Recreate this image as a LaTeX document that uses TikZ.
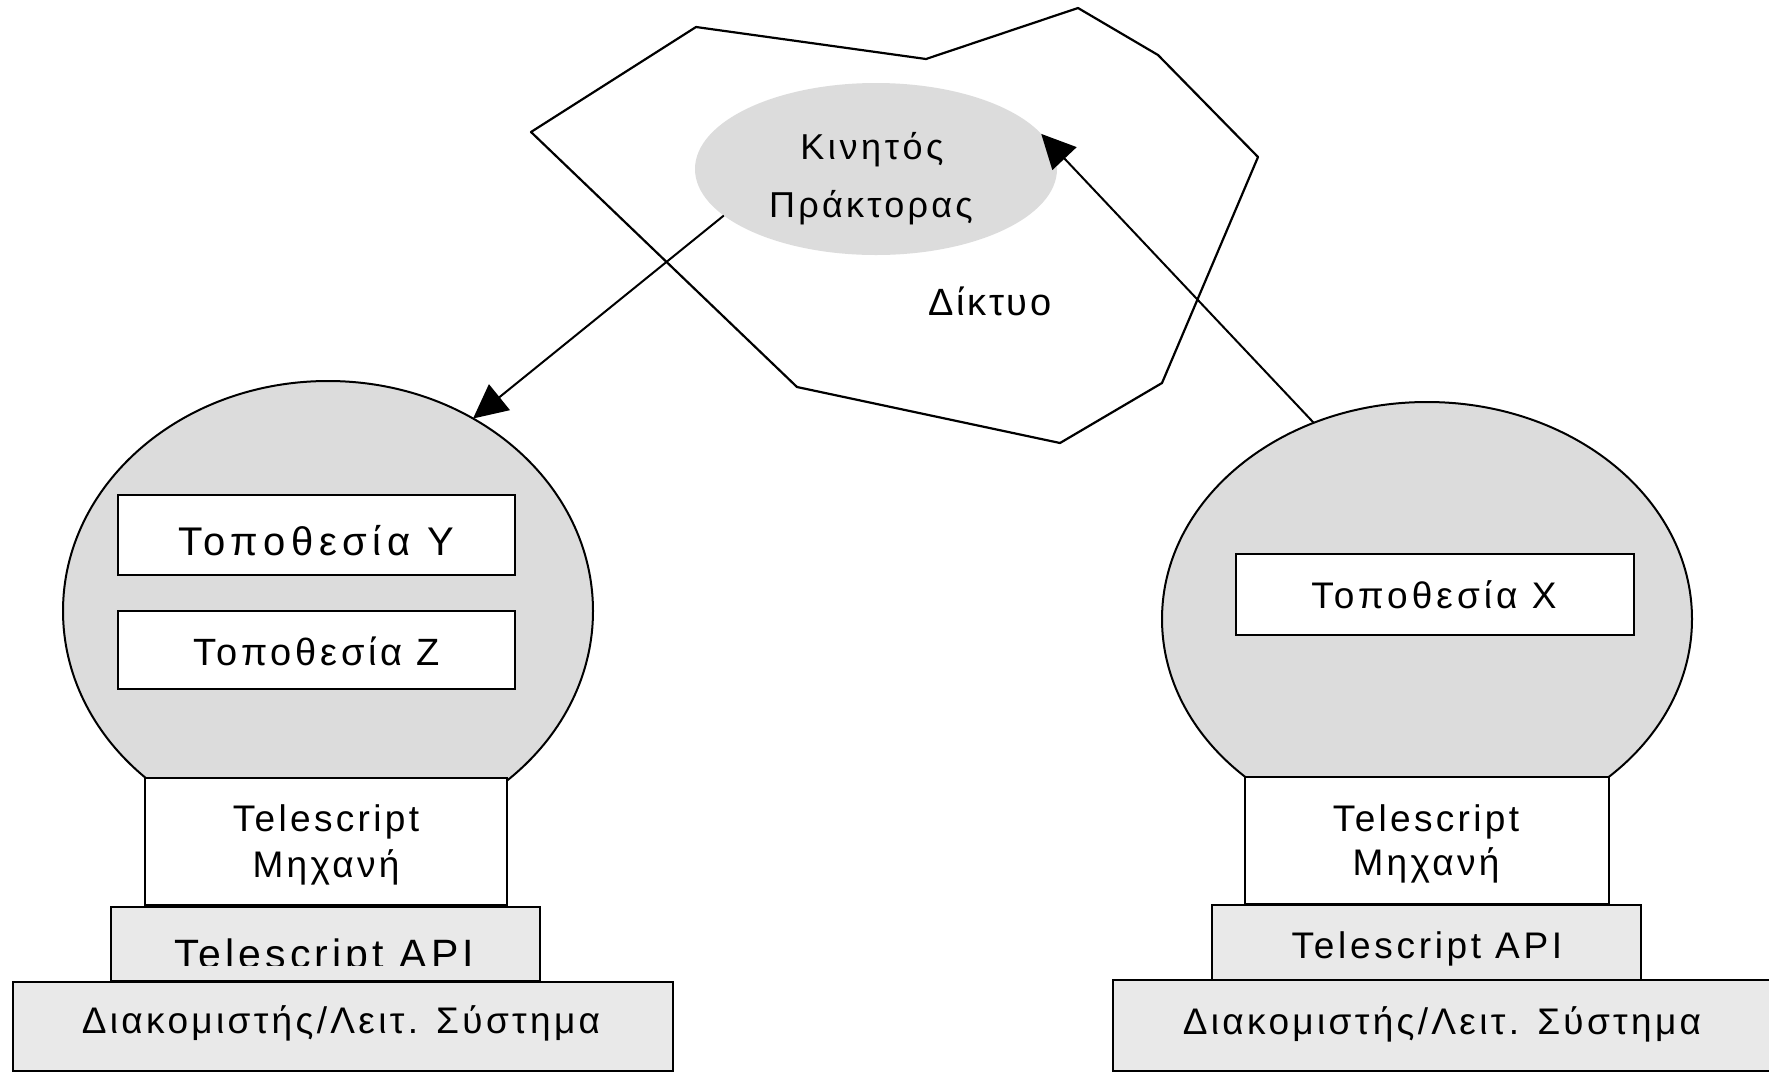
\documentclass[tikz,border=0pt]{standalone}
\usepackage{fontspec}
\setmainfont{Liberation Sans}
\usetikzlibrary{shapes.geometric,arrows.meta,fit}
\definecolor{sphgray}{RGB}{220,220,220}
\definecolor{boxgray}{RGB}{233,233,233}
\newcommand{\tf}[2]{\fontsize{#1pt}{#1pt}\selectfont\addfontfeatures{LetterSpace=#2}}
\begin{document}
\begin{tikzpicture}[x=1pt,y=-1pt,
  sphere/.style={ellipse, draw, fill=sphgray, line width=2pt, inner sep=0pt, outer sep=0pt},
  agentshape/.style={ellipse, fill=sphgray, inner sep=0pt, outer sep=0pt, minimum width=362pt, minimum height=172pt},
  whitebox/.style={rectangle, draw, fill=white, line width=2.6pt, inner sep=0pt, outer sep=0pt},
  graybox/.style={rectangle, draw, fill=boxgray, line width=2.6pt, inner sep=0pt, outer sep=0pt},
  txt/.style={anchor=base, inner sep=0pt, outer sep=0pt},
  cloudline/.style={line width=2.2pt, line join=round},
  conn/.style={line width=2pt, -{Triangle[length=34pt,width=33pt]}}]
\useasboundingbox[fill=white] (0,0) rectangle (1769,1072);

% network cloud
\draw[cloudline] (696,27) -- (926,59) -- (1078,8) -- (1158,55) -- (1258,157) -- (1162,383) -- (1060,443) -- (797,387) -- (531,132) -- cycle;

% mobile agent
\node[agentshape] (agent) at (876,169) {};
\node[txt] (agent1) at (872,159) {\tf{36}{10}Κινητός};
\node[txt] (agent2) at (871,217) {\tf{36}{9}Πράκτορας};
\node[txt] (net) at (990,315) {\tf{38}{7}Δίκτυο};

% left host
\node[sphere, minimum width=530pt, minimum height=460pt] (sphL) at (328,611) {};
\node[whitebox, fit={(118,495) (515,575)}] (locY) {};
\node[txt] (locYt) at (316,555) {\tf{40}{14}Τοποθεσία Y};
\node[whitebox, fit={(118,611) (515,689)}] (locZ) {};
\node[txt] (locZt) at (317,665) {\tf{38}{10}Τοποθεσία Z};
\node[whitebox, fit={(145,778) (507,905)}] (engL) {};
\node[txt] (engL1) at (326,831) {\tf{37}{9}Telescript};
\node[txt] (engL2) at (326,877) {\tf{37}{9}Μηχανή};
\node[graybox, fit={(111,907) (540,981)}] (apiL) {};
\begin{scope}
\clip (113,909) rectangle (538,965);
\node[txt] (apiLt) at (324,968) {\tf{41}{10}Telescript API};
\end{scope}
\node[graybox, fit={(13,982) (673,1071)}] (osL) {};
\node[txt] (osLt) at (341,1033) {\tf{37}{9}Διακομιστής/Λειτ. Σύστημα};

% right host
\node[sphere, minimum width=530pt, minimum height=434pt] (sphR) at (1427,619) {};
\node[whitebox, fit={(1236,554) (1634,635)}] (locX) {};
\node[txt] (locXt) at (1434,608) {\tf{37}{11}Τοποθεσία X};
\node[whitebox, fit={(1245,777) (1609,904)}] (engR) {};
\node[txt] (engR1) at (1426,831) {\tf{37}{9}Telescript};
\node[txt] (engR2) at (1426,875) {\tf{37}{9}Μηχανή};
\node[graybox, fit={(1212,905) (1641,980)}] (apiR) {};
\node[txt] (apiRt) at (1427,958) {\tf{37}{10}Telescript API};
\node[graybox, fit={(1113,980) (1790,1071)}] (osR) {};
\node[txt] (osRt) at (1442,1034) {\tf{37}{9}Διακομιστής/Λειτ. Σύστημα};

% migration arrows
\draw[conn] (agent.197) -- (sphL.53);
\draw[conn] (sphR.120) -- (agent.12);
\end{tikzpicture}
\end{document}
